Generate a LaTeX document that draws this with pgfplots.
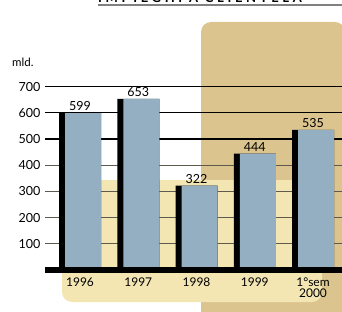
\documentclass[border=0pt]{standalone}
\usepackage{fontspec}
\setmainfont{Lato}
\usepackage{pgfplots}
\pgfplotsset{compat=1.18}
\definecolor{tanbg}{RGB}{220,196,142}
\definecolor{paley}{RGB}{243,230,179}
\definecolor{barblue}{RGB}{149,175,194}
\definecolor{gridg}{RGB}{95,90,80}
\begin{document}
\begin{tikzpicture}
\useasboundingbox (0pt,0pt) rectangle (342pt,311pt);
\clip (0pt,0pt) rectangle (342pt,311pt);
\fill[tanbg, rounded corners=10pt] (201pt,-20pt) rectangle (345pt,289pt);
\fill[paley, rounded corners=10pt] (62pt,9pt) rectangle (322pt,131pt);
\node[anchor=base west, inner sep=0pt, font=\bfseries\fontsize{13}{15}\selectfont\addfontfeatures{LetterSpace=28}] at (98pt,308.5pt) {IMPIEGHI A CLIENTELA};
\draw[gray, line width=1.5pt] (98pt,306pt) -- (342pt,306pt);
\node[anchor=base west, inner sep=0pt, font=\fontsize{11.5}{13}\selectfont] at (12pt,244pt) {mld.};
\begin{axis}[
  at={(45pt,41pt)}, anchor=south west,
  scale only axis, width=297pt, height=183.4pt,
  xmin=-0.601, xmax=4.498, ymin=0, ymax=700,
  clip=false,
  axis line style={draw=none},
  major tick length=0pt,
  ytick={100,200,300,400},
  extra y ticks={500,600,700},
  ymajorgrids,
  grid style={gridg, line width=1.2pt},
  extra y tick style={grid style={black, line width=1.2pt}},
  xtick={0,1,2,3,4},
  xticklabels={1996,1997,1998,1999,{1°sem\\[-1pt]2000}},
  xticklabel style={align=center, yshift=-4pt, font=\fontsize{12}{12}\selectfont},
  yticklabel style={xshift=-1pt, font=\fontsize{12.5}{14}\selectfont},
  /pgf/number format/assume math mode=true,
]
\addplot[ybar, bar width=42pt, bar shift=0pt, fill=black, draw=none,
  nodes near coords, every node near coord/.append style={font=\fontsize{12.5}{14}\selectfont, yshift=-1pt}]
  coordinates {(0,599) (1,653) (2,322) (3,444) (4,535)};
\addplot[ybar, bar width=36pt, bar shift=3pt, fill=barblue, draw=none]
  coordinates {(0,599) (1,653) (2,322) (3,444) (4,535)};
\draw[black, line width=5.5pt] (axis cs:-0.601,0) -- (axis cs:4.498,0);
\end{axis}
\end{tikzpicture}
\end{document}
